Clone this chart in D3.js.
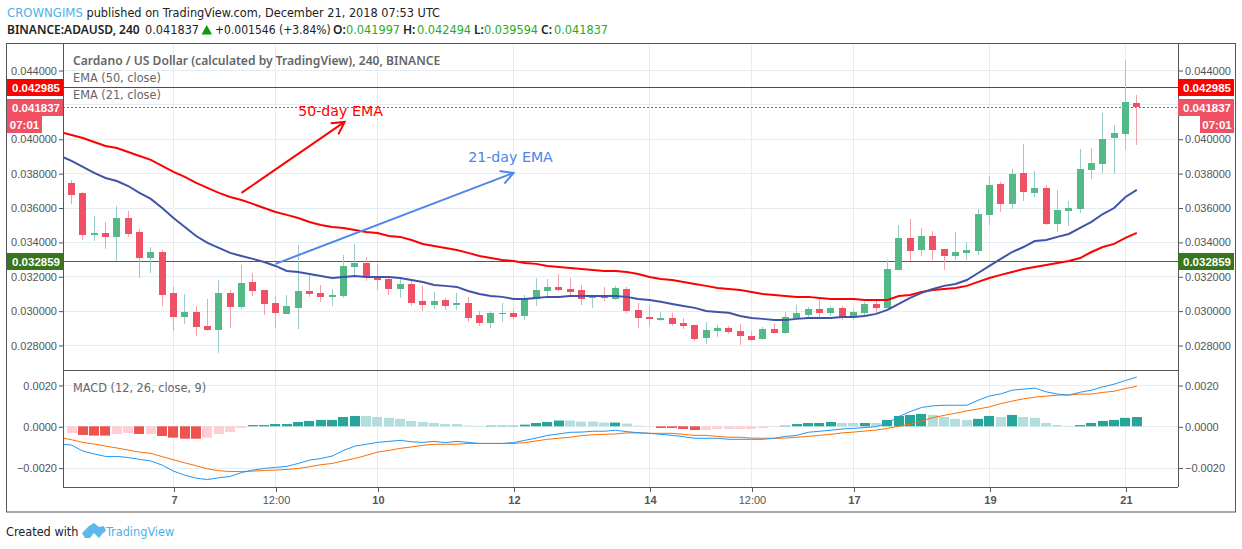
<!DOCTYPE html>
<html>
<head>
<meta charset="utf-8">
<script src="https://cdn.jsdelivr.net/npm/d3@7"></script>
<style>
  html, body { margin: 0; padding: 0; background: #fff; }
  svg { display: block; }
  text { font-family: "DejaVu Sans Condensed", "DejaVu Sans", sans-serif; font-stretch: condensed; }
  .scale text { font-family: "Liberation Sans", sans-serif; font-stretch: normal; font-size: 11px; fill: #555; }
  .strong { font-family: "Noto Sans", sans-serif; font-stretch: normal; font-weight: 600; }
</style>
</head>
<body>
<svg id="chart" width="1242" height="549"></svg>
<script>
const opens = [
  .03743,.03684,.03440,.03452,.03429,.03539,.03458,.03306,.03341,.03103,
  .02963,.02992,.02911,.02888,.03103,.03021,.03167,.03120,.03045,.02981,
  .03016,.03114,.03103,.03080,.03085,.03254,.03277,.03202,.03184,.03126,
  .03155,.03056,.03033,.03062,.03033,.03045,.02975,.02928,.02981,.02987,
  .02969,.03068,.03114,.03138,.03126,.03120,.03074,.03085,.03068,.03126,
  .03004,.02963,.02946,.02957,.02928,.02917,.02841,.02882,.02899,.02882,
  .02853,.02835,.02893,.02870,.02957,.02975,.03010,.02987,.03016,.02969,
  .02987,.03039,.03016,.03237,.03423,.03353,.03434,.03359,.03318,.03336,
  .03347,.03557,.03737,.03621,.03801,.03684,.03714,.03504,.03580,.03591,
  .03818,.03853,.04004,.04028,.04208];
const highs = [
  .03760,.03690,.03551,.03516,.03609,.03580,.03475,.03370,.03353,.03138,
  .03097,.03027,.03068,.03178,.03120,.03266,.03219,.03120,.03085,.03091,
  .03382,.03219,.03149,.03126,.03324,.03388,.03312,.03272,.03202,.03196,
  .03173,.03144,.03109,.03074,.03103,.03080,.02998,.02998,.03045,.03010,
  .03091,.03190,.03184,.03213,.03190,.03149,.03085,.03138,.03144,.03138,
  .03045,.03027,.02992,.02987,.02957,.02917,.02934,.02917,.02911,.02923,
  .02882,.02905,.02923,.02992,.03033,.03021,.03074,.03027,.03027,.03010,
  .03051,.03068,.03295,.03498,.03533,.03481,.03464,.03359,.03458,.03400,
  .03591,.03783,.03749,.03824,.03970,.03813,.03731,.03702,.03638,.03941,
  .03946,.04150,.04080,.04458,.04255];
const lows = [
  .03621,.03411,.03405,.03359,.03289,.03429,.03190,.03219,.03027,.02882,
  .02923,.02853,.02882,.02754,.02899,.03010,.03085,.02975,.02899,.02981,
  .02893,.03080,.03051,.03027,.03074,.03208,.03173,.03120,.03091,.03074,
  .03027,.02998,.03010,.03004,.03004,.02934,.02911,.02899,.02934,.02952,
  .02946,.03027,.03074,.03114,.03080,.03033,.03016,.03056,.03062,.02987,
  .02899,.02911,.02940,.02911,.02893,.02824,.02806,.02847,.02864,.02800,
  .02824,.02829,.02870,.02864,.02952,.02963,.02952,.02969,.02946,.02946,
  .02969,.02987,.03016,.03237,.03289,.03318,.03295,.03237,.03295,.03295,
  .03324,.03498,.03574,.03591,.03638,.03661,.03498,.03458,.03493,.03568,
  .03766,.03801,.03795,.03935,.03964];
const closes = [
  .03673,.03440,.03452,.03429,.03539,.03446,.03306,.03341,.03091,.02963,
  .02992,.02905,.02888,.03103,.03021,.03161,.03114,.03039,.02987,.03027,
  .03114,.03097,.03080,.03091,.03260,.03277,.03196,.03178,.03126,.03155,
  .03045,.03033,.03056,.03027,.03045,.02957,.02928,.02987,.02987,.02963,
  .03074,.03120,.03138,.03120,.03109,.03068,.03085,.03074,.03132,.02998,
  .02957,.02952,.02957,.02923,.02911,.02835,.02888,.02899,.02876,.02853,
  .02829,.02893,.02870,.02963,.02987,.03010,.02987,.03016,.02957,.02992,
  .03039,.03016,.03242,.03423,.03347,.03434,.03353,.03318,.03341,.03353,
  .03562,.03731,.03621,.03795,.03690,.03714,.03504,.03586,.03597,.03824,
  .03859,.03999,.04034,.04214,.04184];
const ema50 = [
  .04022,.04004,.03981,.03958,.03946,.03923,.03900,.03877,.03842,.03807,
  .03778,.03743,.03714,.03685,.03661,.03644,.03621,.03597,.03574,.03557,
  .03539,.03516,.03498,.03487,.03481,.03469,.03458,.03452,.03434,.03429,
  .03411,.03388,.03376,.03365,.03353,.03336,.03318,.03306,.03295,.03289,
  .03277,.03272,.03260,.03254,.03248,.03242,.03237,.03231,.03231,.03225,
  .03213,.03196,.03184,.03178,.03167,.03155,.03144,.03132,.03126,.03120,
  .03109,.03097,.03091,.03085,.03080,.03080,.03074,.03068,.03068,.03068,
  .03062,.03062,.03062,.03085,.03091,.03109,.03120,.03126,.03132,.03144,
  .03167,.03190,.03208,.03225,.03242,.03254,.03266,.03277,.03289,.03306,
  .03341,.03370,.03388,.03423,.03452];
const ema21 = [
  .03871,.03836,.03801,.03772,.03754,.03725,.03685,.03650,.03597,.03539,
  .03487,.03434,.03394,.03365,.03336,.03318,.03301,.03283,.03260,.03231,
  .03225,.03213,.03202,.03190,.03196,.03202,.03196,.03196,.03196,.03190,
  .03178,.03167,.03149,.03144,.03138,.03114,.03097,.03085,.03080,.03068,
  .03068,.03074,.03080,.03080,.03085,.03085,.03085,.03085,.03085,.03080,
  .03068,.03062,.03051,.03039,.03027,.03016,.02998,.02992,.02987,.02969,
  .02957,.02952,.02946,.02946,.02952,.02957,.02957,.02957,.02963,.02963,
  .02969,.02981,.03004,.03039,.03074,.03103,.03126,.03144,.03155,.03178,
  .03219,.03260,.03301,.03341,.03370,.03405,.03411,.03429,.03446,.03481,
  .03516,.03562,.03597,.03661,.03702];
const macdLine = [
  -.00091,-.00120,-.00134,-.00146,-.00146,-.00151,-.00160,-.00168,-.00188,-.00217,
  -.00237,-.00251,-.00258,-.00249,-.00243,-.00224,-.00212,-.00204,-.00199,-.00194,
  -.00180,-.00164,-.00156,-.00144,-.00117,-.00096,-.00087,-.00078,-.00073,-.00068,
  -.00075,-.00078,-.00073,-.00079,-.00073,-.00078,-.00083,-.00083,-.00083,-.00079,
  -.00068,-.00057,-.00044,-.00037,-.00029,-.00028,-.00024,-.00024,-.00019,-.00026,
  -.00031,-.00034,-.00039,-.00044,-.00050,-.00058,-.00058,-.00058,-.00063,-.00063,
  -.00063,-.00063,-.00058,-.00049,-.00044,-.00029,-.00024,-.00019,-.00013,-.00010,
  -.00006,-.00002,.00015,.00047,.00071,.00091,.00099,.00102,.00102,.00102,
  .00126,.00147,.00157,.00175,.00180,.00185,.00167,.00156,.00151,.00165,
  .00175,.00191,.00204,.00222,.00238];
const signalLine = [
  -.00065,-.00078,-.00086,-.00096,-.00105,-.00115,-.00125,-.00131,-.00147,-.00162,
  -.00177,-.00191,-.00206,-.00215,-.00219,-.00219,-.00217,-.00214,-.00212,-.00209,
  -.00204,-.00196,-.00186,-.00180,-.00167,-.00156,-.00141,-.00125,-.00117,-.00107,
  -.00100,-.00092,-.00087,-.00087,-.00087,-.00083,-.00083,-.00083,-.00083,-.00083,
  -.00079,-.00071,-.00063,-.00058,-.00053,-.00045,-.00041,-.00039,-.00037,-.00032,
  -.00032,-.00034,-.00034,-.00034,-.00039,-.00044,-.00044,-.00049,-.00053,-.00053,
  -.00057,-.00058,-.00058,-.00057,-.00053,-.00049,-.00044,-.00039,-.00032,-.00028,
  -.00023,-.00018,-.00010,.00000,.00010,.00026,.00042,.00053,.00063,.00075,
  .00084,.00094,.00110,.00122,.00133,.00141,.00146,.00151,.00152,.00156,
  .00156,.00164,.00170,.00183,.00194];
const histogram = [
  -.00032,-.00042,-.00045,-.00045,-.00037,-.00032,-.00037,-.00037,-.00047,-.00055,
  -.00060,-.00060,-.00055,-.00037,-.00028,-.00008,.00006,.00006,.00011,.00011,
  .00021,.00026,.00031,.00031,.00045,.00050,.00050,.00045,.00041,.00036,
  .00026,.00021,.00016,.00011,.00011,.00003,.00002,.00003,.00003,.00003,
  .00008,.00016,.00021,.00028,.00028,.00023,.00023,.00018,.00018,.00013,
  .00003,-.00002,-.00008,-.00008,-.00013,-.00018,-.00018,-.00013,-.00013,-.00013,
  -.00013,-.00008,-.00002,.00003,.00011,.00016,.00016,.00021,.00016,.00016,
  .00016,.00016,.00031,.00050,.00055,.00060,.00055,.00045,.00036,.00031,
  .00036,.00050,.00045,.00055,.00045,.00041,.00016,.00006,.00002,.00006,
  .00016,.00026,.00031,.00041,.00045];
// 1 = solid bar, 0 = pale bar
const histSolid = [
  0,1,1,1,0,0,1,0,1,1,
  1,1,0,0,0,0,1,1,1,1,
  1,1,1,1,1,1,0,0,0,0,
  0,0,0,0,0,0,0,1,1,1,
  1,1,1,1,0,0,0,0,1,0,
  0,0,1,1,1,1,0,0,0,0,
  0,0,0,1,1,1,1,1,0,0,
  1,0,1,1,1,1,0,0,0,0,
  1,1,0,1,0,0,0,0,0,1,
  1,1,1,1,1];
// the study lines run in from the left edge, just before the first candle
const leadIndex = -0.67;
const ema50Lead = .04033, ema21Lead = .03891, macdLead = -.00087, signalLead = -.00058;

const priceTicks = [.028, .030, .032, .034, .036, .038, .040, .044];
const macdTicks = [-.002, 0, .002];
const timeTickIndex = [9, 18, 27, 39, 51, 60, 69, 81, 93];
const timeTickLabels = ['7', '12:00', '10', '12', '14', '12:00', '17', '19', '21'];
const timeTickBold = ['7', '10', '12', '14', '17', '19', '21'];

const highLevel = 0.042985;
const lastLevel = 0.041837;
const lowLevel = 0.032859;

// arrows are given as [candle index, price]
const arrow50 = [[15, .03685], [24.1, .04098]];
const arrow21 = [[18, .03272], [39, .03801]];
const label50 = [20, .04132];
const label21 = [35, .03865];

const UP = '#53b987', DOWN = '#ef5064';
const left = 63, right = 1178, paneSplit = 370, bottom = 487;

const x = d3.scaleLinear().domain([0, 94]).range([71.5, 1136.8]);
const y = d3.scaleLinear().domain([.028, .044]).range([345, 70]);
const ym = d3.scaleLinear().domain([-.002, .002]).range([467.6, 385]);

const snap = v => Math.round(v) + 0.5;
const svg = d3.select('#chart');
const idx = d3.range(opens.length);

// grid
const grid = svg.append('g').attr('stroke', '#e4edf3').attr('fill', 'none');
timeTickIndex.forEach(i => {
  grid.append('line').attr('x1', snap(x(i))).attr('x2', snap(x(i)))
    .attr('y1', 44).attr('y2', bottom);
});
priceTicks.concat([.042]).forEach(p => {
  grid.append('line').attr('x1', left).attr('x2', right)
    .attr('y1', snap(y(p))).attr('y2', snap(y(p)));
});
macdTicks.forEach(p => {
  grid.append('line').attr('x1', left).attr('x2', right)
    .attr('y1', snap(ym(p))).attr('y2', snap(ym(p)));
});

// level lines
svg.append('line').attr('x1', left).attr('x2', right)
  .attr('y1', snap(y(lowLevel))).attr('y2', snap(y(lowLevel))).attr('stroke', '#38761d');
svg.append('line').attr('x1', left).attr('x2', right)
  .attr('y1', snap(y(highLevel))).attr('y2', snap(y(highLevel))).attr('stroke', '#ff0000');
svg.append('line').attr('x1', left).attr('x2', right)
  .attr('y1', snap(y(lastLevel))).attr('y2', snap(y(lastLevel)))
  .attr('stroke', '#f0304a').attr('stroke-dasharray', '2,2');

// candles
const candles = svg.append('g').selectAll('g').data(idx).join('g');
candles.append('line')
  .attr('x1', i => Math.floor(x(i)) + 0.5).attr('x2', i => Math.floor(x(i)) + 0.5)
  .attr('y1', i => y(highs[i])).attr('y2', i => y(lows[i]))
  .attr('stroke', i => closes[i] >= opens[i] ? '#9ccbcc' : '#f5a0ac');
candles.append('rect')
  .attr('x', i => Math.floor(x(i)) - 3).attr('width', 7)
  .attr('y', i => Math.round(y(Math.max(opens[i], closes[i]))))
  .attr('height', i => Math.max(1, Math.round(y(Math.min(opens[i], closes[i]))) - Math.round(y(Math.max(opens[i], closes[i])))))
  .attr('fill', i => closes[i] >= opens[i] ? UP : DOWN);

// EMAs
const withLead = (lead, values) => [[leadIndex, lead]].concat(values.map((v, i) => [i, v]));
const priceLine = d3.line().x(d => x(d[0])).y(d => y(d[1]));
svg.append('path').datum(withLead(ema50Lead, ema50)).attr('d', priceLine)
  .attr('fill', 'none').attr('stroke', '#ff0000').attr('stroke-width', 2);
svg.append('path').datum(withLead(ema21Lead, ema21)).attr('d', priceLine)
  .attr('fill', 'none').attr('stroke', '#3f54a8').attr('stroke-width', 2);

// hand drawn arrows
function drawArrow(points, color) {
  const a = [x(points[0][0]), y(points[0][1])];
  const b = [x(points[1][0]), y(points[1][1])];
  const ang = Math.atan2(b[1] - a[1], b[0] - a[0]);
  const head = t => [b[0] - 14 * Math.cos(ang + t), b[1] - 14 * Math.sin(ang + t)];
  const g = svg.append('g').attr('fill', 'none').attr('stroke', color).attr('stroke-width', 2);
  g.append('path').attr('d', d3.line()([a, b]));
  g.append('path').attr('d', d3.line()([head(0.5), b, head(-0.5)]));
}
drawArrow(arrow50, '#ff0000');
drawArrow(arrow21, '#4f86ec');

svg.append('text').attr('x', x(label50[0])).attr('y', y(label50[1]))
  .attr('fill', '#ff0000').style('font-family', 'DejaVu Sans').style('font-stretch', 'normal')
  .style('font-size', '14.2px').text('50-day EMA');
svg.append('text').attr('x', x(label21[0])).attr('y', y(label21[1]))
  .attr('fill', '#4a86e8').style('font-family', 'DejaVu Sans').style('font-stretch', 'normal')
  .style('font-size', '14.2px').text('21-day EMA');

// MACD pane
const zero = ym(0);
svg.append('g').selectAll('rect').data(idx).join('rect')
  .attr('x', i => Math.round(x(i)) - 5).attr('width', 10)
  .attr('y', i => Math.min(ym(histogram[i]), zero))
  .attr('height', i => Math.abs(ym(histogram[i]) - zero))
  .attr('fill', i => histogram[i] >= 0
    ? (histSolid[i] ? '#26a69a' : '#b2dfdb')
    : (histSolid[i] ? '#ef5350' : '#ffcdd2'));

const macdPath = d3.line().x(d => x(d[0])).y(d => ym(d[1]));
svg.append('path').datum(withLead(signalLead, signalLine)).attr('d', macdPath)
  .attr('fill', 'none').attr('stroke', '#ff6d00').attr('stroke-width', 1);
svg.append('path').datum(withLead(macdLead, macdLine)).attr('d', macdPath)
  .attr('fill', 'none').attr('stroke', '#2196f3').attr('stroke-width', 1);

// frame
const frame = svg.append('g').attr('fill', 'none').attr('stroke', '#555');
frame.append('rect').attr('x', 6.5).attr('y', 43.5).attr('width', 1229).attr('height', 468.5);
frame.append('line').attr('x1', left + .5).attr('x2', left + .5).attr('y1', 44).attr('y2', bottom);
frame.append('line').attr('x1', right + .5).attr('x2', right + .5).attr('y1', 44).attr('y2', bottom);
frame.append('line').attr('x1', left).attr('x2', right).attr('y1', paneSplit + .5).attr('y2', paneSplit + .5);
frame.append('line').attr('x1', left).attr('x2', right).attr('y1', bottom + .5).attr('y2', bottom + .5);

// axes
function styleAxis(g) {
  g.attr('class', 'scale');
  g.select('.domain').remove();
  g.selectAll('line').attr('stroke', '#555');
}
const fmt6 = d3.format('.6f'), fmt4 = d3.format('.4f');
svg.append('g').attr('transform', `translate(${left},0.5)`)
  .call(d3.axisLeft(y).tickValues(priceTicks).tickFormat(fmt6).tickSize(4).tickPadding(2)).call(styleAxis);
svg.append('g').attr('transform', `translate(${right + 1},0.5)`)
  .call(d3.axisRight(y).tickValues(priceTicks).tickFormat(fmt6).tickSize(4).tickPadding(2)).call(styleAxis);
svg.append('g').attr('transform', `translate(${left},0.5)`)
  .call(d3.axisLeft(ym).tickValues(macdTicks).tickFormat(fmt4).tickSize(4).tickPadding(2)).call(styleAxis);
svg.append('g').attr('transform', `translate(${right + 1},0.5)`)
  .call(d3.axisRight(ym).tickValues(macdTicks).tickFormat(fmt4).tickSize(4).tickPadding(2)).call(styleAxis);
svg.append('g').attr('transform', `translate(0.5,${bottom + 1})`)
  .call(d3.axisBottom(x).tickValues(timeTickIndex).tickFormat((d, i) => timeTickLabels[i]).tickSize(4).tickPadding(4))
  .call(styleAxis)
  .selectAll('text').style('font-weight', (d, i) => timeTickBold.includes(timeTickLabels[i]) ? 'bold' : 'normal');

// price labels on both scales
const tags = [
  { value: highLevel, color: '#ff0000' },
  { value: lastLevel, color: DOWN },
  { value: lowLevel, color: '#38761d' }
];
tags.forEach(t => {
  [7, right].forEach(bx => {
    svg.append('rect').attr('x', bx).attr('y', Math.round(y(t.value)) - 8)
      .attr('width', 56).attr('height', 17).attr('fill', t.color);
    svg.append('text').attr('x', bx + 29).attr('y', Math.round(y(t.value)) + 4.5)
      .attr('text-anchor', 'middle').attr('fill', '#fff')
      .style('font-family', 'Liberation Sans').style('font-stretch', 'normal')
      .style('font-size', '11.5px').style('font-weight', 'bold')
      .text(fmt6(t.value));
  });
});
[[7, 35], [1200, 34]].forEach(([bx, w]) => {
  svg.append('rect').attr('x', bx).attr('y', 116).attr('width', w).attr('height', 17).attr('fill', DOWN);
  svg.append('text').attr('x', bx + w / 2).attr('y', 128.5).attr('text-anchor', 'middle').attr('fill', '#fff')
    .style('font-family', 'Liberation Sans').style('font-stretch', 'normal')
    .style('font-size', '11.5px').style('font-weight', 'bold').text('07:01');
});

// study legends
function legend(txt, ly, strong) {
  svg.append('text').attr('class', strong ? 'strong' : null).attr('x', 73).attr('y', ly).attr('fill', '#666')
    .style('font-size', strong ? '12.1px' : '12.6px').text(txt);
}
legend('Cardano / US Dollar (calculated by TradingView), 240, BINANCE', 65, true);
legend('EMA (50, close)', 82);
legend('EMA (21, close)', 99);
legend('MACD (12, 26, close, 9)', 392);

// header
const head1 = svg.append('text').attr('x', 7).attr('y', 17).style('font-size', '12.6px').attr('fill', '#222');
head1.append('tspan').attr('fill', '#4db0e8').style('font-size', '13px').text('CROWNGIMS');
head1.append('tspan').text(' published on TradingView.com, December 21, 2018 07:53 UTC');

const UPTXT = '#1ead1e';
const quote = [
  { x: 7, t: 'BINANCE:ADAUSD, 240', strong: true },
  { x: 145, t: '0.041837' },
  { x: 215, t: '+0.001546 (+3.84%)', size: '12px' },
  { x: 333, t: 'O:', strong: true },
  { x: 346, t: '0.041997', fill: UPTXT },
  { x: 403, t: 'H:', strong: true },
  { x: 417, t: '0.042494', fill: UPTXT },
  { x: 474, t: 'L:', strong: true },
  { x: 484, t: '0.039594', fill: UPTXT },
  { x: 541, t: 'C:', strong: true },
  { x: 554, t: '0.041837', fill: UPTXT }
];
svg.append('g').selectAll('text').data(quote).join('text')
  .attr('class', d => d.strong ? 'strong' : null)
  .attr('x', d => d.x).attr('y', 34)
  .attr('fill', d => d.fill || '#222')
  .style('font-size', d => d.strong ? '12px' : (d.size || '12.6px'))
  .text(d => d.t);
svg.append('path').attr('d', 'M201.5 34.5 L212 34.5 L206.7 25 Z').attr('fill', '#0a9a0a');

// footer with logo
svg.append('text').attr('x', 6).attr('y', 536).attr('fill', '#222').style('font-size', '12.6px').text('Created with');
svg.append('path')
  .attr('d', 'M82 533 L89 526 L94 523 L99 527 L104 526 L106 531 L103 533 L99 538 L94 533 L90 538 L85 538 Z')
  .attr('fill', '#5cb8e8');
svg.append('text').attr('x', 106).attr('y', 536).attr('fill', '#4db0e8').style('font-size', '12.6px').text('TradingView');
</script>
</body>
</html>
